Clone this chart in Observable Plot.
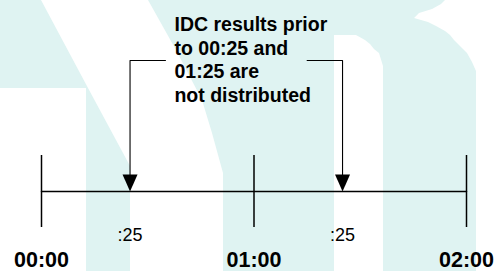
<!DOCTYPE html>
<html>
<head>
<meta charset="utf-8">
<script src="https://cdn.jsdelivr.net/npm/d3@7"></script>
<script src="https://cdn.jsdelivr.net/npm/@observablehq/plot@0.6"></script>
<style>
  html, body { margin: 0; padding: 0; background: #ffffff; }
  #chart svg { display: block; }
</style>
</head>
<body>
<div id="chart"></div>
<script>
// ---- data ----
const hourMinutes = [0, 60, 120];                 // timeline ticks (minutes since 00:00)
const hourLabels = ["00:00", "01:00", "02:00"];
const cutoffMinutes = [25, 85];                   // distribution cut-offs
const cutoffLabels = [":25", ":25"];
const leaderEnds = [35, 75];                      // where each leader line meets the note
const noteLines = ["IDC results prior", "to 00:25 and", "01:25 are", "not distributed"];

// ---- layout (vertical units of the y scale) ----
const timelineY = 191, tickTop = 155, tickBottom = 227;
const leaderY = 60, arrowTipY = 191;
const cutoffLabelY = 240, hourLabelY = 266, noteLastBaseline = 101.5;
const FONT = "'Liberation Sans', Arial, Helvetica, sans-serif";

// decorative background watermark (light teal), pixel space
function watermark() {
  const shapes = [
    [[0,0],[41,0],[88,88],[130,166],[130,271],[86,271],[86,88],[0,88]],
    [[148,0],[445,0],[441,4],[432,9],[419,13],[414,18],[428,22],[436,26],[445,31],[450,35],
     [454,40],[458,44],[463,49],[467,53],[472,62],[476,71],[476,271],[383,271],[383,66],
     [379,53],[374,49],[370,44],[365,40],[356,35],[334,35],[334,271],[223,271],[223,173],
     [212,133],[202,100],[176,50]]
  ];
  const g = d3.create("svg:g");
  g.selectAll("path").data(shapes).join("path")
    .attr("d", d => "M" + d.join("L") + "Z")
    .attr("fill", "#dff3f2");
  return g.node();
}

// downward arrowhead symbol with its tip at the data point
const arrowHead = {
  draw(context) {
    context.moveTo(0, 0);
    context.lineTo(-7.5, -17);
    context.lineTo(7.5, -17);
    context.closePath();
  }
};

const timeline = [
  {x: hourMinutes[0], y: timelineY},
  {x: hourMinutes[hourMinutes.length - 1], y: timelineY}
];
const leaders = cutoffMinutes.flatMap((m, i) => [
  {arrow: i, x: leaderEnds[i], y: leaderY},
  {arrow: i, x: m, y: leaderY},
  {arrow: i, x: m, y: arrowTipY - 15}
]);

const chart = Plot.plot({
  width: 496,
  height: 271,
  margin: 0,
  style: {fontFamily: FONT, background: "transparent", color: "black"},
  x: {domain: [0, 120], range: [41, 466], axis: null},
  y: {domain: [0, 271], range: [0, 271], axis: null},
  marks: [
    watermark,
    Plot.line(timeline, {x: "x", y: "y", stroke: "black", strokeWidth: 1.5}),
    Plot.ruleX(hourMinutes, {x: d => d, y1: () => tickTop, y2: () => tickBottom, stroke: "black", strokeWidth: 1.5}),
    Plot.line(leaders, {x: "x", y: "y", z: "arrow", stroke: "black", strokeWidth: 1.1}),
    Plot.dot(cutoffMinutes, {x: d => d, y: () => arrowTipY, symbol: arrowHead, fill: "black", stroke: "none"}),
    Plot.text(cutoffMinutes, {
      x: d => d, y: () => cutoffLabelY, text: (d, i) => cutoffLabels[i],
      fontSize: 18, fontFamily: FONT, lineAnchor: "bottom", fill: "black"
    }),
    Plot.text(hourMinutes, {
      x: d => d, y: () => hourLabelY, text: (d, i) => hourLabels[i],
      fontSize: 21.5, fontWeight: "bold", fontFamily: FONT, lineAnchor: "bottom", fill: "black"
    }),
    Plot.text([noteLines.join("\n")], {
      x: () => leaderEnds[0], y: () => noteLastBaseline, text: d => d, dx: 9,
      textAnchor: "start", lineAnchor: "bottom", lineHeight: 1.215,
      fontSize: 19.5, fontWeight: "bold", fontFamily: FONT, fill: "black"
    })
  ]
});
document.getElementById("chart").appendChild(chart);
</script>
</body>
</html>
